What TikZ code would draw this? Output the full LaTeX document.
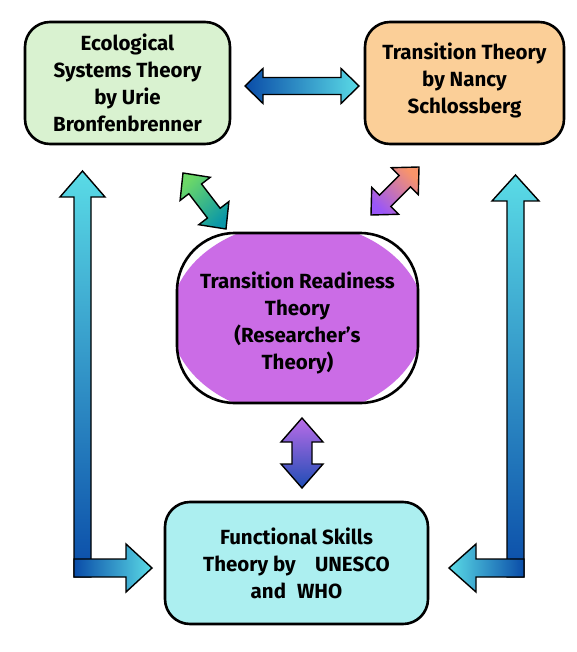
\documentclass[tikz,border=0pt]{standalone}
\usepackage{fontspec}
\setmainfont{Fira Sans}
\usetikzlibrary{calc}
\definecolor{ecofill}{HTML}{D9F2D0}
\definecolor{ttfill}{HTML}{FBCF98}
\definecolor{trtfill}{HTML}{CB6CE6}
\definecolor{fsfill}{HTML}{ACEFF0}
\definecolor{cyanA}{HTML}{5ADBE6}
\definecolor{blueA}{HTML}{0A4CA8}
\definecolor{greenA}{HTML}{6CD868}
\definecolor{tealA}{HTML}{0A97A8}
\definecolor{violetA}{HTML}{9A56F8}
\definecolor{orangeA}{HTML}{F8946A}
\definecolor{lilacA}{HTML}{BA6CE8}
\definecolor{blueB}{HTML}{1E4DB5}
\newcommand\fatdbl[6]{%
  \path ($(#1)!#3!(#2)$) coordinate (tmpa) ($(#2)!#3!(#1)$) coordinate (tmpb);
  \shadedraw[arrowline,#6] (#1) -- ($(tmpa)!#4!90:(#1)$) -- ($(tmpa)!#5!90:(#1)$)
    -- ($(tmpb)!#5!-90:(#2)$) -- ($(tmpb)!#4!-90:(#2)$) -- (#2)
    -- ($(tmpb)!#4!90:(#2)$) -- ($(tmpb)!#5!90:(#2)$)
    -- ($(tmpa)!#5!-90:(#1)$) -- ($(tmpa)!#4!-90:(#1)$) -- cycle;}
\tikzset{
  box/.style={draw=black, line width=2.6pt, rounded corners=25pt, align=center,
    font=\fontsize{20.5}{27}\selectfont\bfseries, inner sep=0pt},
  arrowline/.style={draw=black, line width=1.4pt, line join=miter},
  txt/.style={align=center, font=\fontsize{20.5}{27}\selectfont\bfseries, inner sep=0pt}
}
\begin{document}
\begin{tikzpicture}[x=1pt,y=-1pt]
\useasboundingbox (0,0) rectangle (576,652);
\fill[white] (0,0) rectangle (576,652);

% boxes
\node[box, fill=ecofill, minimum width=205pt, minimum height=122pt] (eco) at (127.5,83)
  {Ecological\\Systems Theory\\by Urie\\Bronfenbrenner};
\node[box, fill=ttfill, minimum width=199pt, minimum height=122pt] (tt) at (464.5,83) {};
\node[txt] (tttext) at (464.5,80) {Transition Theory\\by Nancy\\Schlossberg};
\begin{scope}
  \clip[rounded corners=58pt] (177,233) rectangle (418,403);
  \fill[trtfill] (297.5,319) ellipse [x radius=127, y radius=97];
\end{scope}
\node[box, rounded corners=58pt, minimum width=241pt, minimum height=170pt] (trt) at (297.5,318) {};
\node[txt] (trttext) at (297.5,323) {Transition Readiness\\Theory\\(Researcher's\\Theory)};
\node[box, fill=fsfill, minimum width=263pt, minimum height=122pt] (fs) at (296.5,563)
  {Functional Skills\\Theory by\hspace{0.7em} UNESCO\\and\hspace{0.3em} WHO};

% connector end points
\coordinate (h1) at (245,86);
\coordinate (h2) at (359,86);
\coordinate (g1) at (183,173);
\coordinate (g2) at (226,229);
\coordinate (p1) at (371,215);
\coordinate (p2) at (419,167);
\coordinate (v1) at (302,418);
\coordinate (v2) at (302,488);

\fatdbl{h1}{h2}{18pt}{17.5pt}{8.5pt}{left color=blueA, right color=cyanA}
\fatdbl{g1}{g2}{20pt}{19pt}{8pt}{top color=greenA, bottom color=tealA, shading angle=45}
\fatdbl{p1}{p2}{20pt}{19pt}{8pt}{top color=orangeA, bottom color=violetA, shading angle=-45}
\fatdbl{v1}{v2}{24pt}{21pt}{10pt}{top color=lilacA, bottom color=blueB}

% left L arrow
\shadedraw[arrowline, top color=cyanA, bottom color=blueA]
  (74,577) -- (74,197) -- (60,197) -- (82.5,171) -- (105,197) -- (91,197) -- (91,577) -- cycle;
\shadedraw[arrowline, left color=blueA, right color=cyanA]
  (74,559) -- (126,559) -- (126,544) -- (152,568) -- (126,592) -- (126,577) -- (74,577) -- cycle;
% right L arrow
\shadedraw[arrowline, top color=cyanA, bottom color=blueA]
  (507,577) -- (507,201) -- (492,201) -- (515.5,175) -- (539,201) -- (524,201) -- (524,577) -- cycle;
\shadedraw[arrowline, left color=cyanA, right color=blueA]
  (524,559) -- (476,559) -- (476,544) -- (449,568) -- (476,592) -- (476,577) -- (524,577) -- cycle;
\end{tikzpicture}
\end{document}
